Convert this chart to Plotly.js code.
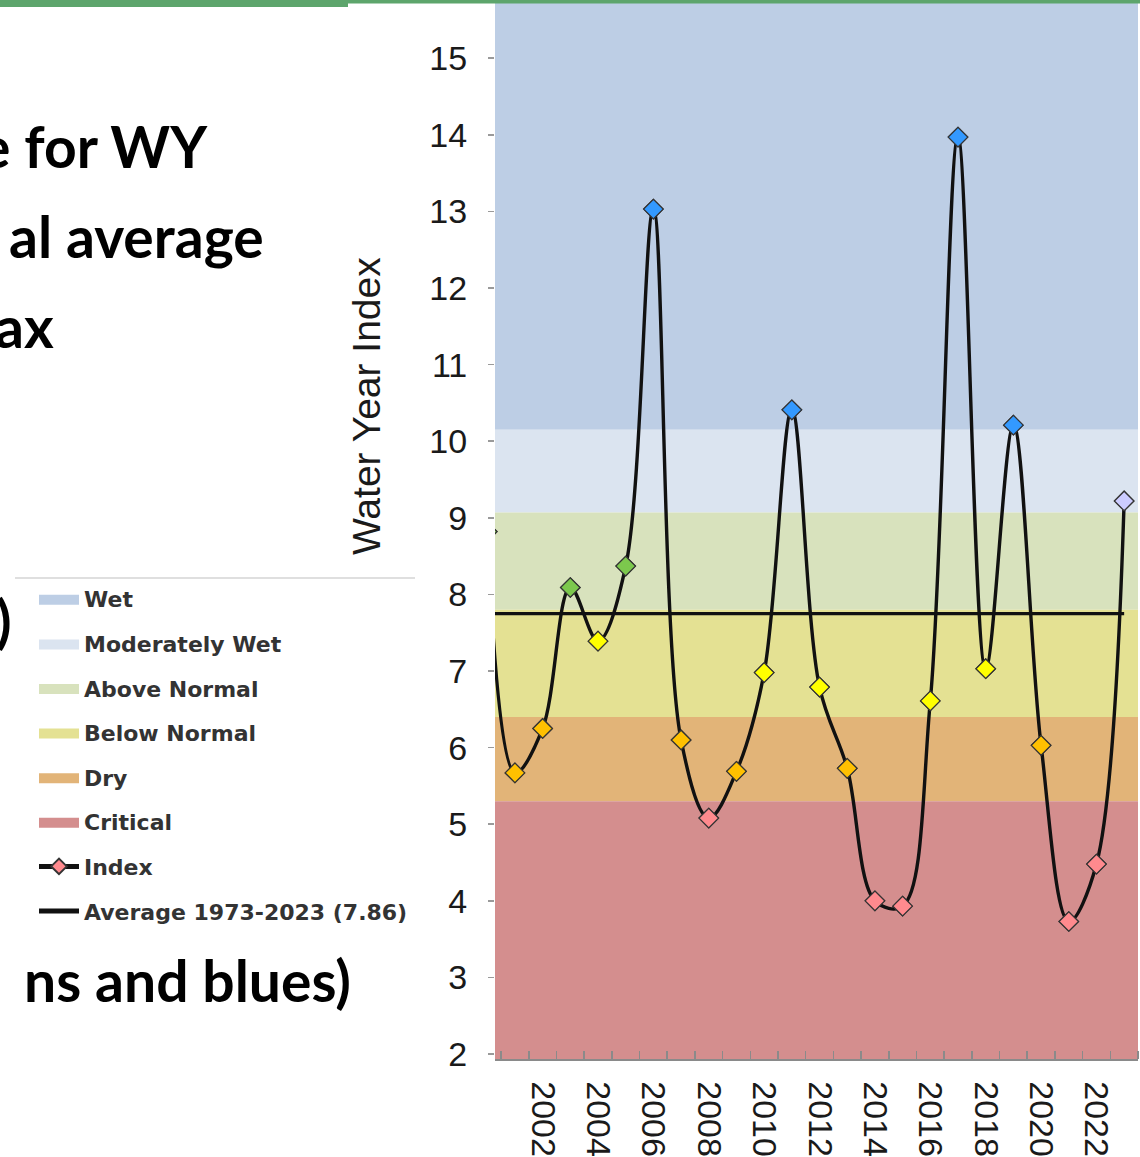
<!DOCTYPE html>
<html>
<head>
<meta charset="utf-8">
<script src="https://cdn.plot.ly/plotly-3.0.1.min.js"></script>
<style>
html, body { margin: 0; padding: 0; background: #ffffff; overflow: hidden; }
#chart { width: 1140px; height: 1157px; }
</style>
</head>
<body>
<div id="chart"></div>
<script>
// ---------------- data ----------------
const years = [2000, 2001, 2002, 2003, 2004, 2005, 2006, 2007, 2008, 2009, 2010, 2011,
               2012, 2013, 2014, 2015, 2016, 2017, 2018, 2019, 2020, 2021, 2022, 2023];
const indexValues = [8.82, 5.67, 6.25, 8.09, 7.39, 8.37, 13.03, 6.10, 5.08, 5.69, 6.98, 10.41,
                     6.79, 5.73, 4.00, 3.93, 6.61, 13.97, 7.03, 10.21, 6.03, 3.73, 4.48, 9.22];
const yearTypes = ['Above Normal', 'Dry', 'Dry', 'Above Normal', 'Below Normal', 'Above Normal',
                   'Wet', 'Dry', 'Critical', 'Dry', 'Below Normal', 'Wet',
                   'Below Normal', 'Dry', 'Critical', 'Critical', 'Below Normal', 'Wet',
                   'Below Normal', 'Wet', 'Dry', 'Critical', 'Critical', 'Preliminary'];
const bandNames = ['Wet', 'Moderately Wet', 'Above Normal', 'Below Normal', 'Dry', 'Critical'];
const bandLower = [10.15, 9.07, 7.8, 6.4, 5.3, 1.9];
const bandUpper = [16.0, 10.15, 9.07, 7.8, 6.4, 5.3];
const averageValue = 7.75;
const averageLabel = 'Average 1973-2023 (7.86)';
const indexLabel = 'Index';
const yTickValues = [2, 3, 4, 5, 6, 7, 8, 9, 10, 11, 12, 13, 14, 15];
const yAxisTitle = 'Water Year Index';
const slideTextLines = ['e for WY', 'al average', 'ax', ')', 'ns and blues)'];

// ---------------- styles ----------------
const bandColors = {
  'Wet': '#bdcee5',
  'Moderately Wet': '#dbe4f0',
  'Above Normal': '#d8e2bd',
  'Below Normal': '#e4e193',
  'Dry': '#e2b478',
  'Critical': '#d48e8e'
};
const markerColors = {
  'Wet': '#3399ff',
  'Above Normal': '#7cc84d',
  'Below Normal': '#ffff00',
  'Dry': '#ffc000',
  'Critical': '#ff8a8e',
  'Preliminary': '#ccccff'
};

const W = 1140, H = 1157;
const M = { l: 495, r: 2, t: 0, b: 98 };
const PW = W - M.l - M.r, PH = H - M.t - M.b;
const px2x = p => (p - M.l) / PW;
const px2y = p => (PH + M.t - p) / PH;

const xLo = years[0] - 0.5, xHi = years[years.length - 1] + 0.5;

// ---------------- traces ----------------
const traces = [];
bandNames.forEach((name, i) => {
  traces.push({
    type: 'scatter', mode: 'lines', name: name,
    x: [xLo, xHi, xHi, xLo, xLo],
    y: [bandLower[i], bandLower[i], bandUpper[i], bandUpper[i], bandLower[i]],
    fill: 'toself', fillcolor: bandColors[name],
    line: { width: 0 }, hoverinfo: 'skip',
    legendgroup: 'g' + i, legendrank: i + 1
  });
});
traces.push({
  type: 'scatter', mode: 'lines', name: averageLabel,
  x: [years[0], years[years.length - 1]], y: [averageValue, averageValue],
  line: { color: '#111111', width: 3.2 },
  legendgroup: 'gavg', legendrank: 8
});
traces.push({
  type: 'scatter', mode: 'lines+markers', name: indexLabel,
  x: years, y: indexValues,
  line: { color: '#111111', width: 3.4, shape: 'spline', smoothing: 1 },
  marker: { symbol: 'diamond', size: 15, color: markerColors['Critical'],
            line: { color: '#333333', width: 1.2 } },
  legendgroup: 'gidx', legendrank: 7
});
traces.push({
  type: 'scatter', mode: 'markers', name: indexLabel, showlegend: false,
  x: years, y: indexValues,
  marker: { symbol: 'diamond', size: 15, color: yearTypes.map(t => markerColors[t]),
            line: { color: '#333333', width: 1.2 } }
});

// ---------------- layout ----------------
const axisFont = { family: 'Liberation Sans, Arial, sans-serif', size: 34, color: '#1a1a1a' };
const slideFont = { family: 'Lato, Open Sans, sans-serif', size: 57, color: '#000000', weight: 'bold' };

const slidePos = [
  { right: 210, center: 146 },
  { right: 266, center: 236 },
  { right: 56, center: 326 },
  { right: 14, center: 620 },
  { right: 353, center: 980 }
];

const annotations = slideTextLines.map((t, i) => ({
  text: t, xref: 'paper', yref: 'paper',
  x: px2x(slidePos[i].right), y: px2y(slidePos[i].center),
  xanchor: 'right', yanchor: 'middle', showarrow: false, font: slideFont
}));
annotations.push({
  text: yAxisTitle, xref: 'paper', yref: 'paper',
  x: px2x(367), y: px2y(406), xanchor: 'center', yanchor: 'middle',
  textangle: -90, showarrow: false,
  font: { family: 'Liberation Sans, Arial, sans-serif', size: 39, color: '#1a1a1a' }
});

const layout = {
  width: W, height: H,
  margin: { l: M.l, r: M.r, t: M.t, b: M.b, autoexpand: false },
  paper_bgcolor: '#ffffff', plot_bgcolor: '#ffffff',
  showlegend: true,
  legend: {
    x: px2x(34), y: px2y(578), xanchor: 'left', yanchor: 'top',
    bgcolor: 'rgba(0,0,0,0)', borderwidth: 0,
    font: { family: 'DejaVu Sans, sans-serif', size: 22, color: '#333333', weight: 'bold' },
    tracegroupgap: 13, itemsizing: 'constant', traceorder: 'grouped', itemwidth: 40
  },
  xaxis: {
    range: [2000.28, xHi],
    tickmode: 'array',
    tickvals: years.filter(y => y % 2 === 0),
    ticktext: years.filter(y => y % 2 === 0).map(String),
    ticks: '', tickangle: 90, tickfont: axisFont, ticklabelstandoff: 14,
    showline: true, linecolor: '#8a8a8a', linewidth: 1.5,
    showgrid: false, zeroline: false, fixedrange: true,
    minor: { ticks: 'inside', ticklen: 8, tickwidth: 1.5, tickcolor: '#8a8a8a',
             tickmode: 'linear', tick0: years[0] + 0.5, dtick: 1 }
  },
  xaxis2: {
    overlaying: 'x', anchor: 'y', side: 'bottom',
    range: [2000.28, xHi],
    tickmode: 'array',
    tickvals: years.filter(y => y % 2 === 1).map(y => y + 0.5),
    ticks: 'outside', ticklen: 12, tickwidth: 1.5, tickcolor: '#8a8a8a',
    showticklabels: false, showline: false, showgrid: false, zeroline: false
  },
  yaxis: {
    range: [1.935, 15.76],
    tickmode: 'array', tickvals: yTickValues,
    ticks: 'outside', ticklen: 6, tickwidth: 1.5, tickcolor: '#9a9a9a',
    tickfont: axisFont, ticklabelstandoff: 14,
    showline: false, showgrid: false, zeroline: false, fixedrange: true
  },
  shapes: [
    { type: 'rect', xref: 'paper', yref: 'paper', layer: 'above',
      x0: px2x(0), x1: px2x(348), y0: px2y(7), y1: px2y(0),
      fillcolor: '#5da56c', line: { width: 0 } },
    { type: 'rect', xref: 'paper', yref: 'paper', layer: 'above',
      x0: px2x(348), x1: px2x(1140), y0: px2y(3.5), y1: px2y(0),
      fillcolor: '#5da56c', line: { width: 0 } },
    { type: 'line', xref: 'paper', yref: 'paper', layer: 'above',
      x0: px2x(15), x1: px2x(415), y0: px2y(578), y1: px2y(578),
      line: { color: '#d4d4d4', width: 1.5 } }
  ],
  annotations: annotations
};

Plotly.newPlot('chart', traces, layout, { displayModeBar: false, staticPlot: true }).then(gd => {
  // make the legend colour swatches thicker, like the reference's legend blocks
  gd.querySelectorAll('.legend .legendfill path').forEach(p => {
    const bb = p.getBBox();
    if (!bb.height) return;
    const k = 10 / bb.height;
    const cy = bb.y + bb.height / 2;
    p.setAttribute('transform', 'translate(0,' + (cy * (1 - k)) + ') scale(1,' + k + ')');
  });
});
</script>
</body>
</html>
